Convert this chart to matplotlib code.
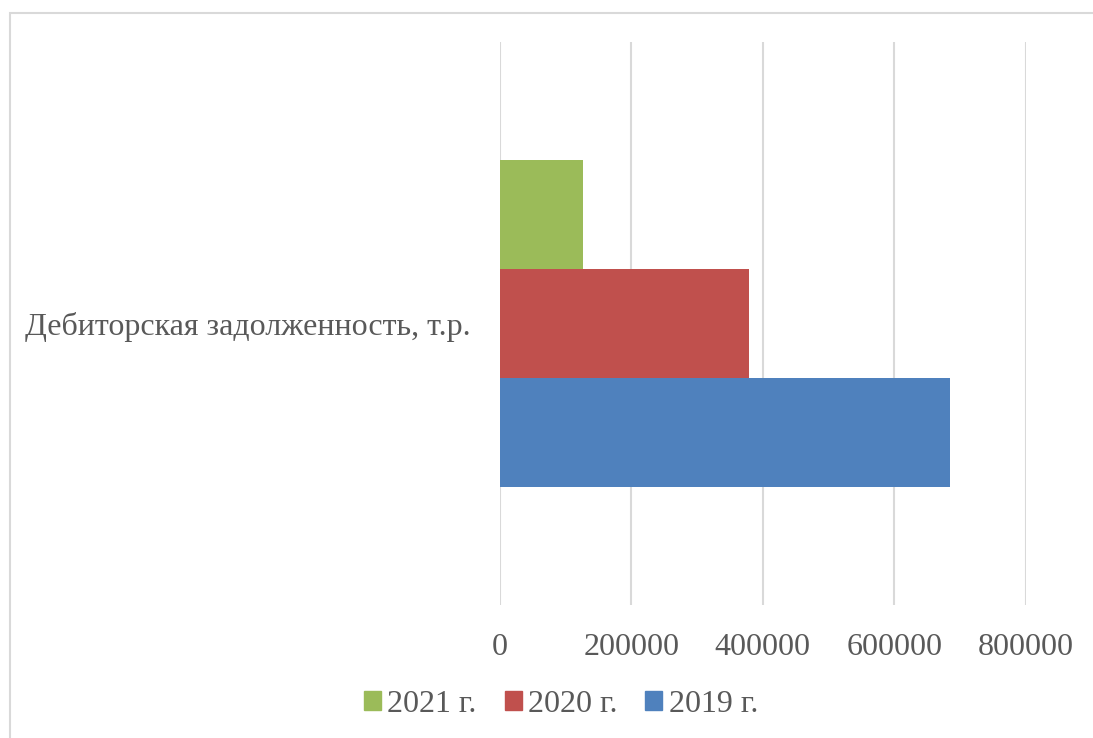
import matplotlib
matplotlib.use("Agg")
import matplotlib.pyplot as plt
from matplotlib.patches import Rectangle, Patch

plt.rcParams["font.family"] = ["Liberation Serif", "DejaVu Serif"]

category = "Дебиторская задолженность, т.р."
years = ["2019 г.", "2020 г.", "2021 г."]
values = [684000, 379000, 127000]
colors = ["#4F81BD", "#C0504D", "#9BBB59"]
xticks = [0, 200000, 400000, 600000, 800000]

TEXT = "#595959"
GRID = "#D9D9D9"
FS = 23

fig = plt.figure(figsize=(10.93, 7.38), dpi=100)
ax = fig.add_axes([0.457, 0.1802, 0.4817, 0.7629])

# chart area border (cropped at the right and bottom)
fig.patches.append(Rectangle((9.5 / 1093, -0.1), 1.2, 1.1 - 13 / 738,
                             transform=fig.transFigure, fill=False,
                             edgecolor=GRID, linewidth=1.5))

# bars: 2019 at bottom, 2021 on top
for i, (yr, v, c) in enumerate(zip(years, values, colors)):
    ax.barh(i - 1, v, height=1.0, color=c, zorder=2, label=yr)

ax.set_xlim(0, 800000)
ax.set_ylim(-2.58, 2.58)
ax.set_xticks(xticks)
ax.set_xticklabels([str(t) for t in xticks], fontsize=FS, color=TEXT)
ax.set_yticks([0])
ax.set_yticklabels([category], fontsize=FS, color=TEXT)
ax.tick_params(axis="x", length=0, pad=20)
ax.tick_params(axis="y", length=0, pad=21)

ax.grid(axis="x", color=GRID, linewidth=1.5, zorder=0)
for s in ax.spines.values():
    s.set_visible(False)

handles = [Patch(color=colors[i]) for i in (2, 1, 0)]
labels = [years[i] for i in (2, 1, 0)]
fig.legend(handles, labels, loc="center", ncol=3,
           bbox_to_anchor=(561 / 1093, 1 - 704 / 738), frameon=False,
           fontsize=FS, labelcolor=TEXT, handlelength=0.53, handleheight=0.53,
           handletextpad=0.2, columnspacing=0.87)

fig.savefig("out.png", dpi=100)
